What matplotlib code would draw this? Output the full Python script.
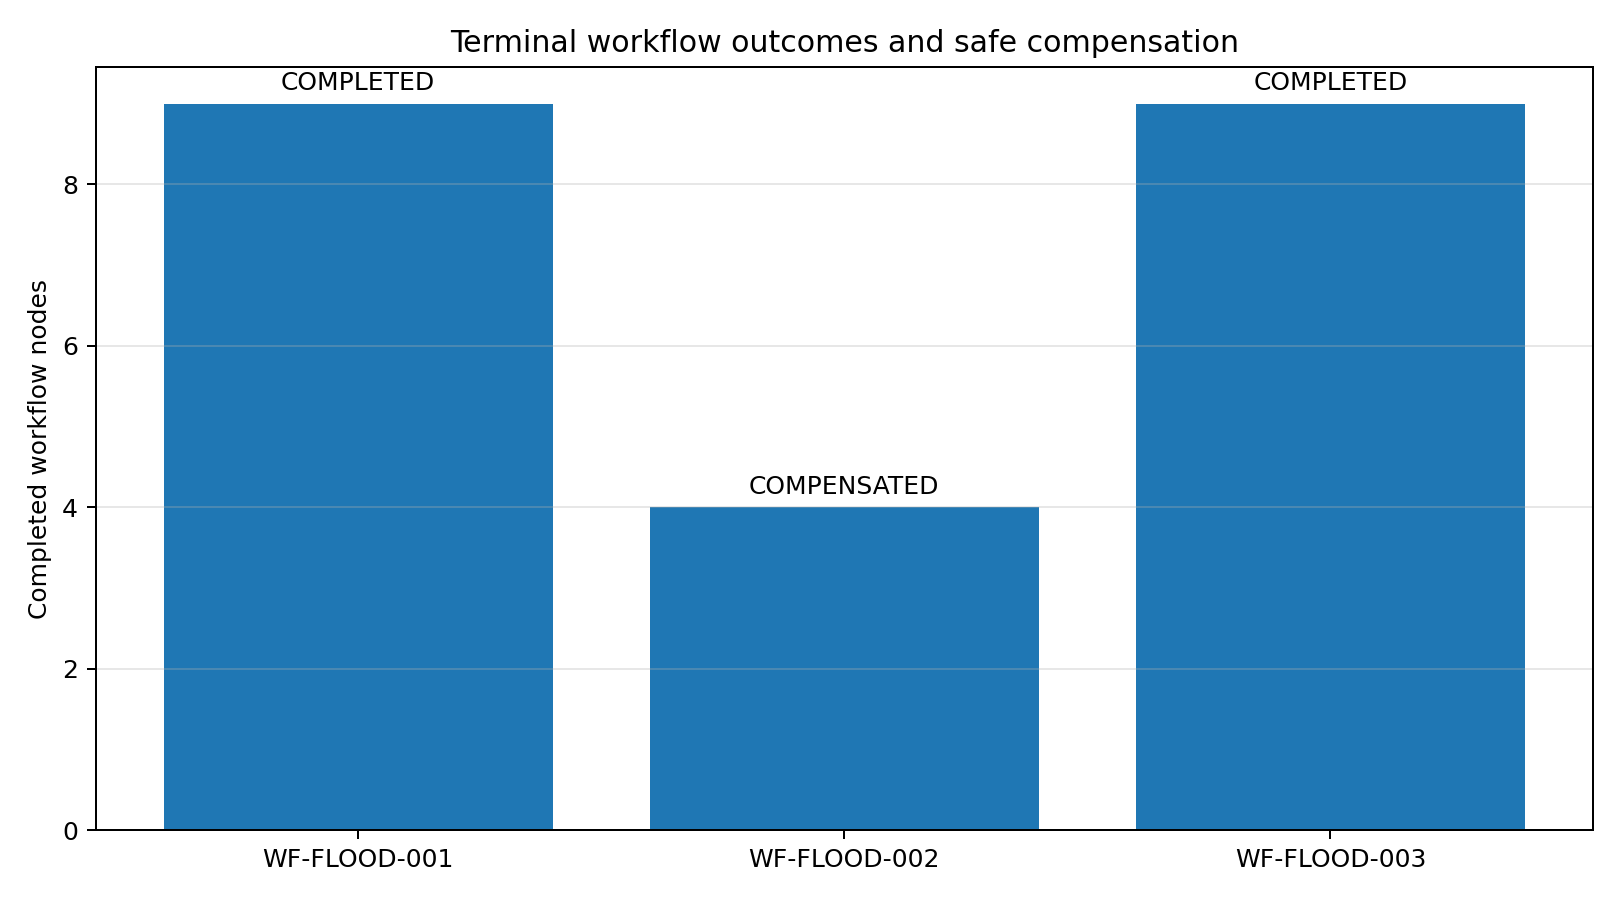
import matplotlib
matplotlib.use("Agg")
import matplotlib.pyplot as plt

# Data
workflows = ["WF-FLOOD-001", "WF-FLOOD-002", "WF-FLOOD-003"]
completed_nodes = [9, 4, 9]
outcomes = ["COMPLETED", "COMPENSATED", "COMPLETED"]

fig, ax = plt.subplots(figsize=(9, 5))
ax.bar(workflows, completed_nodes, color="#1f77b4")

# Outcome label above each bar
for i, (v, label) in enumerate(zip(completed_nodes, outcomes)):
    ax.text(i, v + 0.1, label, ha="center", va="bottom")

ax.set_title("Terminal workflow outcomes and safe compensation")
ax.set_ylabel("Completed workflow nodes")
ax.grid(axis="y", alpha=0.3)

plt.tight_layout()
plt.savefig("out.png", dpi=180)
